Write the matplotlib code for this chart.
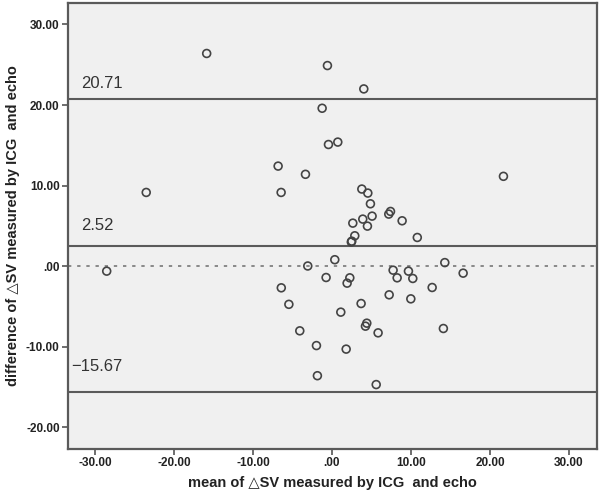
import matplotlib
matplotlib.use('Agg')
import matplotlib.pyplot as plt

plt.rcParams['font.family'] = ['Liberation Sans', 'DejaVu Sans']

# mean of the two measurements (x) and their difference (y)
mean_sv = [-15.85, -0.57, 4.03, -1.24, -0.44, 0.74, -6.81, -3.35, 21.7, -23.5,
           -6.43, 3.78, 4.54, 4.87, 5.08, 3.9, 2.64, 4.49, 7.19, 7.41,
           8.88, 10.8, 2.89, 2.51, 2.45, 0.36, -3.06, 14.28, 7.74, 9.68,
           -0.74, 2.26, 1.92, 8.25, 10.23, -6.41, 12.68, 7.24, 9.98, -5.45,
           3.69, 1.12, 4.41, 4.24, 5.84, 14.1, -4.07, -1.96, 1.8, -1.84,
           5.6, -28.5, 16.6]
diff_sv = [26.4, 24.9, 22.0, 19.6, 15.1, 15.4, 12.42, 11.4, 11.15, 9.15,
           9.15, 9.57, 9.07, 7.74, 6.21, 5.84, 5.34, 4.97, 6.46, 6.79,
           5.63, 3.56, 3.77, 3.1, 3.0, 0.8, 0.02, 0.44, -0.5, -0.62,
           -1.41, -1.45, -2.11, -1.45, -1.53, -2.69, -2.65, -3.56, -4.06, -4.74,
           -4.64, -5.71, -7.08, -7.45, -8.28, -7.74, -8.03, -9.86, -10.3, -13.6,
           -14.7, -0.62, -0.87]

upper_loa = 20.71
mean_diff = 2.52
lower_loa = -15.67
x_ticks = [-30, -20, -10, 0, 10, 20, 30]
y_ticks = [-20, -10, 0, 10, 20, 30]


def fmt(v):
    # SPSS style labels: ".00" for zero
    return '.00' if v == 0 else '%.2f' % v


fig = plt.figure(figsize=(6, 4.95), dpi=100)
ax = fig.add_axes([0.1133, 0.0929, 0.8812, 0.9016])
ax.set_facecolor('#f0f0f0')

# reference lines
for v in [upper_loa, mean_diff, lower_loa]:
    ax.axhline(v, color='#5a5a5a', lw=1.5, zorder=2)
ax.axhline(0, color='#777777', lw=1.2, ls=(0, (2, 3.5)), zorder=2)

ax.scatter(mean_sv, diff_sv, s=32, facecolors='none', edgecolors='#444444',
           linewidths=1.2, zorder=3)

ax.text(-31.7, 22.7, '%.2f' % upper_loa, fontsize=12, color='#333333', va='center')
ax.text(-31.7, 5.1, '%.2f' % mean_diff, fontsize=12, color='#333333', va='center')
ax.text(-33.0, -12.4, '\u2212%.2f' % abs(lower_loa), fontsize=12, color='#333333', va='center')

ax.set_xlim(-33.4, 33.5)
ax.set_ylim(-22.7, 32.7)
ax.set_xticks(x_ticks)
ax.set_xticklabels([fmt(v) for v in x_ticks])
ax.set_yticks(y_ticks)
ax.set_yticklabels([fmt(v) for v in y_ticks])
ax.tick_params(direction='out', length=4, width=1.2, color='#555555',
               labelsize=8.5, labelcolor='#222222', pad=2)
for lab in ax.get_xticklabels() + ax.get_yticklabels():
    lab.set_fontweight('bold')

for sp in ax.spines.values():
    sp.set_color('#5a5a5a')
    sp.set_linewidth(1.6)

ax.set_xlabel('mean of \u25b3SV measured by ICG  and echo', fontsize=10.5,
              fontweight='bold', color='#222222', labelpad=5)
ax.set_ylabel('difference of \u25b3SV measured by ICG  and echo', fontsize=10.5,
              fontweight='bold', color='#222222', labelpad=4)

fig.savefig('out.png', dpi=100)
